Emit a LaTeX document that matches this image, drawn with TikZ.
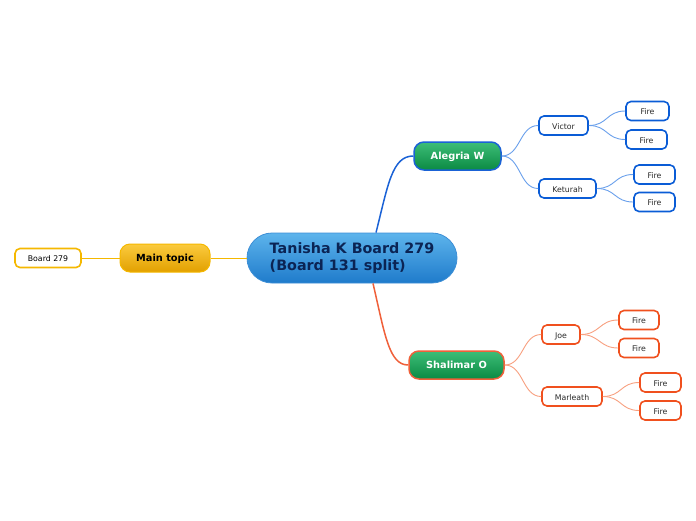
\documentclass[tikz,border=0pt]{standalone}
\usepackage{fontspec}
\setmainfont{DejaVu Sans}
\definecolor{cenTop}{HTML}{5DB4EC}
\definecolor{cenBot}{HTML}{1F7BCB}
\definecolor{cenBd}{HTML}{3E8FD6}
\definecolor{cenTx}{HTML}{0B2454}
\definecolor{grTop}{HTML}{3DBE78}
\definecolor{grBot}{HTML}{0B8A43}
\definecolor{yeTop}{HTML}{FBCB3E}
\definecolor{yeBot}{HTML}{E2A000}
\definecolor{yeBd}{HTML}{F5B800}
\definecolor{blLine}{HTML}{1A62D6}
\definecolor{blLeaf}{HTML}{0A5CD6}
\definecolor{blSub}{HTML}{6AA0EC}
\definecolor{rdLine}{HTML}{F0603A}
\definecolor{rdLeaf}{HTML}{F0501E}
\definecolor{rdSub}{HTML}{F8A080}
\definecolor{leafTx}{HTML}{2A2A2A}
\tikzset{
  central/.style={draw=cenBd, line width=0.8pt, top color=cenTop, bottom color=cenBot,
    rounded corners=25pt, minimum width=210pt, minimum height=50pt, inner sep=0pt,
    align=left, text=cenTx, font=\fontsize{14.3}{17.5}\selectfont\bfseries},
  greenbox/.style={line width=1.5pt, top color=grTop, bottom color=grBot,
    rounded corners=10pt, minimum height=28pt, inner sep=0pt, text=white,
    text height=0.73em, text depth=0pt,
    font=\fontsize{9.8}{11}\selectfont\bfseries},
  yellowbox/.style={draw=yeBd, line width=1pt, top color=yeTop, bottom color=yeBot,
    rounded corners=10pt, minimum height=28pt, inner sep=0pt, text=black,
    text height=0.73em, text depth=0pt,
    font=\fontsize{9.8}{11}\selectfont\bfseries},
  leaf/.style={fill=white, line width=1.6pt, rounded corners=5pt, minimum height=19pt,
    inner sep=0pt, text=leafTx, text height=0.73em, text depth=0pt,
    font=\fontsize{7.8}{9}\selectfont},
  bleaf/.style={leaf, draw=blLeaf},
  rleaf/.style={leaf, draw=rdLeaf},
  yleaf/.style={leaf, draw=yeBd, text=black},
  bsub/.style={draw=blSub, line width=0.9pt},
  rsub/.style={draw=rdSub, line width=0.9pt},
}
\begin{document}
\begin{tikzpicture}[x=1pt,y=-1pt]
\path[use as bounding box, fill=white] (0,0) rectangle (696,520);

% nodes
\node[central] (cen) at (352,258) {Tanisha K Board 279\\(Board 131 split)};
\node[yellowbox, minimum width=90pt] (main) at (165,258) {Main topic};
\node[yleaf, minimum width=66pt] (board) at (48,258) {Board 279};

\node[greenbox, draw=blLine, minimum width=87pt] (ale) at (457.5,156) {Alegria W};
\node[greenbox, draw=rdLine, minimum width=95pt] (sha) at (456.5,365) {Shalimar O};

\node[bleaf, minimum width=49pt] (vic) at (563.5,125.5) {Victor};
\node[bleaf, minimum width=57pt] (ket) at (567.5,188.5) {Keturah};
\node[bleaf, minimum width=43pt] (f1) at (647.5,111) {Fire};
\node[bleaf, minimum width=41pt] (f2) at (646.5,139.5) {Fire};
\node[bleaf, minimum width=41pt] (f3) at (654.5,174.5) {Fire};
\node[bleaf, minimum width=41pt] (f4) at (654.5,202) {Fire};

\node[rleaf, minimum width=38pt] (joe) at (561,334.5) {Joe};
\node[rleaf, minimum width=60pt] (mar) at (572,396.5) {Marleath};
\node[rleaf, minimum width=40pt] (f5) at (639,320) {Fire};
\node[rleaf, minimum width=40pt] (f6) at (639,348) {Fire};
\node[rleaf, minimum width=41pt] (f7) at (660.5,382.5) {Fire};
\node[rleaf, minimum width=41pt] (f8) at (660.5,410.5) {Fire};

% connectors
\draw[yeBd, line width=1pt] (board.east) -- (main.west);
\draw[yeBd, line width=1pt] (main.east) -- (cen.west);
\draw[blLine, line width=1.5pt] ([xshift=24pt]cen.north) .. controls (388,185) and (392,156) .. (ale.west);
\draw[rdLine, line width=1.5pt] ([xshift=21pt]cen.south) .. controls (385,335) and (389,365) .. (sha.west);

\draw[bsub] (ale.east) .. controls +(19,0) and +(-19,0) .. (vic.west);
\draw[bsub] (ale.east) .. controls +(19,0) and +(-19,0) .. (ket.west);
\draw[bsub] (vic.east) .. controls +(19,0) and +(-19,0) .. (f1.west);
\draw[bsub] (vic.east) .. controls +(19,0) and +(-19,0) .. (f2.west);
\draw[bsub] (ket.east) .. controls +(19,0) and +(-19,0) .. (f3.west);
\draw[bsub] (ket.east) .. controls +(19,0) and +(-19,0) .. (f4.west);

\draw[rsub] (sha.east) .. controls +(19,0) and +(-19,0) .. (joe.west);
\draw[rsub] (sha.east) .. controls +(19,0) and +(-19,0) .. (mar.west);
\draw[rsub] (joe.east) .. controls +(19,0) and +(-19,0) .. (f5.west);
\draw[rsub] (joe.east) .. controls +(19,0) and +(-19,0) .. (f6.west);
\draw[rsub] (mar.east) .. controls +(19,0) and +(-19,0) .. (f7.west);
\draw[rsub] (mar.east) .. controls +(19,0) and +(-19,0) .. (f8.west);
\end{tikzpicture}
\end{document}
